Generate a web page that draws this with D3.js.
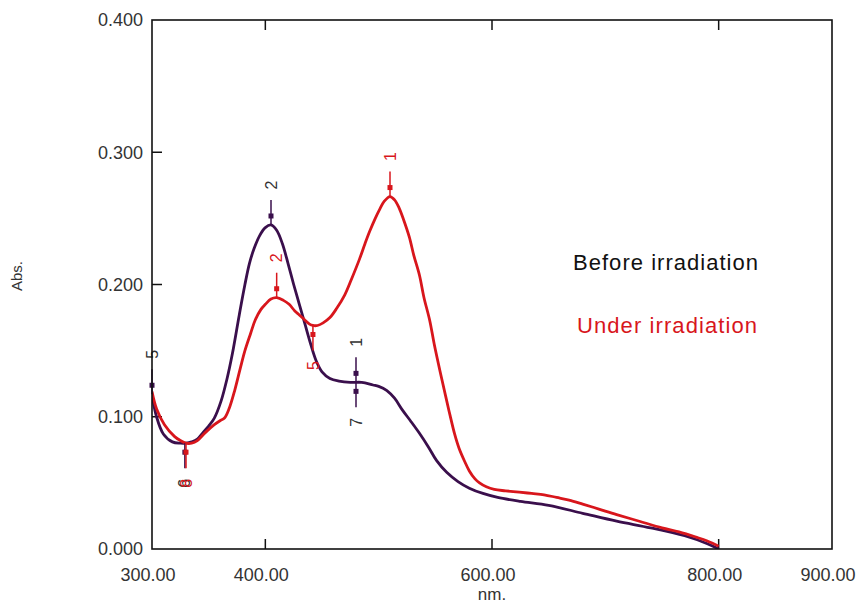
<!DOCTYPE html>
<html><head><meta charset="utf-8">
<script src="https://cdn.jsdelivr.net/npm/d3@7"></script>
<style>body{margin:0;background:#fff}svg{display:block}text{font-family:"Liberation Sans",Arial,sans-serif}</style>
</head><body><svg id="c" width="861" height="604"></svg>
<script>
// ---- data ----
const beforeNm  = [300,304,310,318,325,330,335,340,345,350,355,361,366,371,377,382,386,390,395,400,405,410,415,420,425,430,435,440,445,450,457,465,475,485,495,500,507,514,521,528,536,544,551,560,570,580,592,605,625,650,680,710,740,770,790,800];
const beforeAbs = [0.117,0.100,0.087,0.081,0.080,0.080,0.081,0.083,0.088,0.093,0.099,0.112,0.128,0.148,0.177,0.200,0.216,0.227,0.237,0.243,0.245,0.241,0.231,0.216,0.200,0.185,0.170,0.155,0.142,0.134,0.129,0.127,0.126,0.126,0.124,0.123,0.120,0.114,0.105,0.097,0.0875,0.077,0.067,0.058,0.051,0.046,0.042,0.039,0.036,0.033,0.027,0.021,0.016,0.010,0.004,0.000];
const underNm   = [300,304,311,320,325,330,335,340,347,355,360,364,368,373,378,382,387,391,396,400,405,410,416,421,426,430,435,439,442,446,451,457,463,470,476,483,488,492,497,501,505,510,514,518,522,527,531,536,540,545,549,554,559,563,567,571,576,580,585,589,595,602,612,624,635,646,657,668,680,695,710,730,750,765,780,790,800];
const underAbs  = [0.119,0.106,0.094,0.085,0.082,0.080,0.080,0.082,0.088,0.094,0.097,0.099,0.106,0.120,0.137,0.150,0.163,0.173,0.181,0.185,0.189,0.190,0.188,0.185,0.180,0.177,0.173,0.170,0.169,0.169,0.171,0.175,0.182,0.192,0.204,0.219,0.231,0.240,0.250,0.257,0.263,0.2665,0.264,0.258,0.249,0.236,0.222,0.207,0.190,0.173,0.155,0.135,0.116,0.101,0.087,0.076,0.066,0.059,0.053,0.050,0.047,0.045,0.044,0.043,0.042,0.041,0.039,0.037,0.034,0.030,0.026,0.021,0.016,0.013,0.009,0.006,0.002];
const xTicks = [300,400,600,800,900];
const yTicks = [0.0,0.1,0.2,0.3,0.4];
const innerXTicks = [400,600,800];
const innerYTicks = [0.1,0.2,0.3];
// peak-pick annotations: series, wavelength, absorbance, label, direction
const picksSeries = ["before","under","under","before","before","under","before","before","under"];
const picksNm     = [405,510,410,480,480,442,329,300,330];
const picksAbs    = [0.245,0.2665,0.190,0.126,0.126,0.169,0.080,0.117,0.080];
const picksLabel  = ["2","1","2","1","7","5","6","5","8"];
const picksDir    = ["up","up","up","up","down","down","down","up","down"];
const legendNames = ["Before irradiation","Under irradiation"];

// ---- drawing ----
const colors = {before:"#3a0f4c", under:"#d8161c"};
const svg = d3.select("#c");
const L=152, R=832, T=20, B=549;
const x = d3.scaleLinear().domain([300,900]).range([L,R]);
const y = d3.scaleLinear().domain([0,0.4]).range([B,T]);

svg.append("clipPath").attr("id","pc").append("rect")
  .attr("x",L).attr("y",T).attr("width",R-L).attr("height",B-T);

// tick labels
svg.append("g").selectAll("text").data(yTicks).join("text")
  .attr("x",L-9).attr("y",d=>y(d)).attr("dy","0.35em").attr("text-anchor","end")
  .attr("font-size",18).attr("fill","#333").text(d=>d.toFixed(3));
svg.append("g").selectAll("text").data(xTicks).join("text")
  .attr("x",d=>x(d)-4).attr("y",B+32).attr("text-anchor","middle")
  .attr("font-size",18).attr("fill","#333").text(d=>d.toFixed(2));

// inner ticks
const tk = svg.append("g").attr("stroke","#111").attr("stroke-width",1.5);
innerXTicks.forEach(v=>{
  tk.append("line").attr("x1",x(v)).attr("x2",x(v)).attr("y1",B).attr("y2",B-10);
  tk.append("line").attr("x1",x(v)).attr("x2",x(v)).attr("y1",T).attr("y2",T+10);
});
innerYTicks.forEach(v=>{
  tk.append("line").attr("x1",L).attr("x2",L+10).attr("y1",y(v)).attr("y2",y(v));
});

// axis titles
svg.append("text").attr("transform",`translate(22,276) rotate(-90)`).attr("text-anchor","middle")
  .attr("font-size",15).attr("fill","#333").text("Abs.");
svg.append("text").attr("x",(L+R)/2).attr("y",600).attr("text-anchor","middle")
  .attr("font-size",17).attr("fill","#333").text("nm.");

// lines
const line = d3.line().x(d=>x(d[0])).y(d=>y(d[1])).curve(d3.curveCatmullRom.alpha(0.5));
const series = {
  before: d3.zip(beforeNm, beforeAbs),
  under: d3.zip(underNm, underAbs)
};
const g = svg.append("g").attr("clip-path","url(#pc)");
["before","under"].forEach(k=>{
  g.append("path").datum(series[k]).attr("d",line).attr("fill","none")
    .attr("stroke",colors[k]).attr("stroke-width",2.8).attr("stroke-linejoin","round");
});

// peak-pick markers
const picks = picksNm.map((v,i)=>({s:picksSeries[i],nm:v,a:picksAbs[i],lab:picksLabel[i],dir:picksDir[i]}));
const mk = svg.append("g");
picks.forEach(p=>{
  const px = x(p.nm), py = y(p.a), s = p.dir==="up" ? -1 : 1;
  const c = colors[p.s];
  mk.append("line").attr("x1",px).attr("x2",px).attr("y1",py).attr("y2",py+s*25)
    .attr("stroke",c).attr("stroke-width",1.5);
  mk.append("rect").attr("x",px-2.5).attr("y",py+s*9-2.5).attr("width",5).attr("height",5).attr("fill",c);
  mk.append("text").attr("transform",`translate(${px},${py+s*40}) rotate(-90)`)
    .attr("text-anchor","middle").attr("dy","0.35em").attr("font-size",16)
    .attr("fill",p.s==="before"?"#333":colors.under).text(p.lab);
});

// frame
svg.append("rect").attr("x",L).attr("y",T).attr("width",R-L).attr("height",B-T)
  .attr("fill","none").attr("stroke","#111").attr("stroke-width",1.6);

// legend text
svg.append("text").attr("x",573).attr("y",270).attr("font-size",22).attr("fill","#111")
  .attr("textLength",185).text(legendNames[0]);
svg.append("text").attr("x",577).attr("y",333).attr("font-size",22).attr("fill",colors.under)
  .attr("textLength",180).text(legendNames[1]);
</script></body></html>
